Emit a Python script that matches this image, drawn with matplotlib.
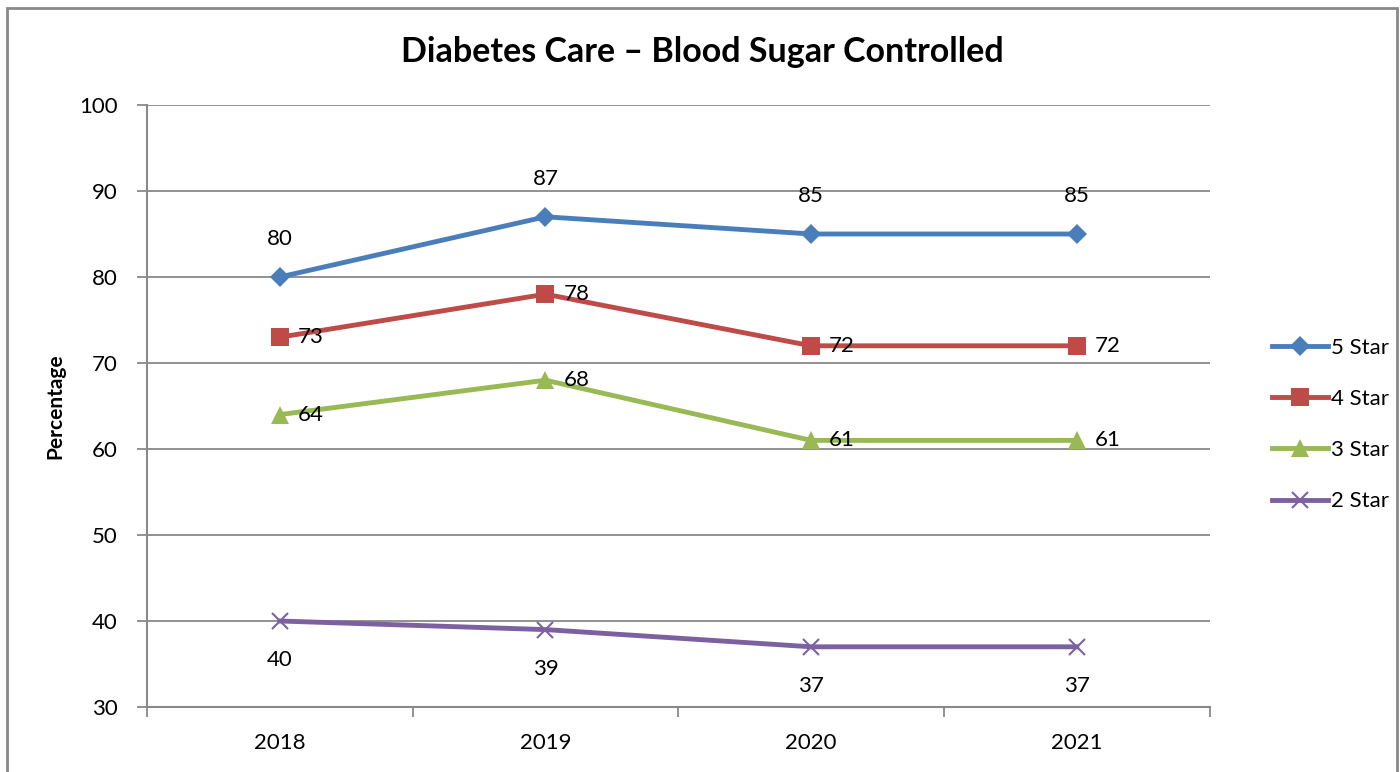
import matplotlib.pyplot as plt
from matplotlib.patches import Rectangle

years = ["2018", "2019", "2020", "2021"]
five_star = [80, 87, 85, 85]
four_star = [73, 78, 72, 72]
three_star = [64, 68, 61, 61]
two_star = [40, 39, 37, 37]

series_names = ["5 Star", "4 Star", "3 Star", "2 Star"]
y_ticks = [30, 40, 50, 60, 70, 80, 90, 100]

plt.rcParams["font.family"] = ["Lato", "DejaVu Sans"]

fig = plt.figure(figsize=(14, 7.72), dpi=100)
ax = fig.add_axes([0.105, 0.0842, 0.759, 0.7798])

# outer chart frame
fig.patches.append(Rectangle((0.005, -0.05), 0.993, 1.04, transform=fig.transFigure,
                             fill=False, edgecolor="#898989", linewidth=2))

styles = [
    ("#4A7EBB", "D", 10, "above"),
    ("#BE4B48", "s", 12.5, "right"),
    ("#98B954", "^", 12.5, "right"),
    ("#7D60A0", "x", 11, "below"),
]

x = list(range(len(years)))
for vals, name, (color, marker, ms, pos) in zip(
        [five_star, four_star, three_star, two_star], series_names, styles):
    ax.plot(x, vals, color=color, linewidth=3.5, marker=marker, markersize=ms,
            markeredgewidth=1.5 if marker == "x" else 0, markeredgecolor=color,
            label=name, zorder=3)
    for xi, v in zip(x, vals):
        if pos == "above":
            ax.annotate(str(v), (xi, v), xytext=(0, 20), textcoords="offset points",
                        ha="center", va="bottom", fontsize=16)
        elif pos == "below":
            ax.annotate(str(v), (xi, v), xytext=(0, -21), textcoords="offset points",
                        ha="center", va="top", fontsize=16)
        else:
            ax.annotate(str(v), (xi, v), xytext=(13, 0), textcoords="offset points",
                        ha="left", va="center", fontsize=16)

ax.set_xlim(-0.5, 3.5)
ax.set_ylim(30, 100)
ax.set_yticks(y_ticks)
ax.set_xticks(x)
ax.set_xticklabels(years)
ax.set_xticks([-0.5, 0.5, 1.5, 2.5, 3.5], minor=True)
ax.tick_params(axis="x", which="major", length=0, labelsize=16, pad=19)
ax.tick_params(axis="x", which="minor", length=7, width=1.3, color="#898989", direction="out")
ax.tick_params(axis="y", length=7, width=1.3, color="#898989", labelsize=16, pad=14)

ax.grid(axis="y", color="#898989", linewidth=1.3)
ax.set_axisbelow(True)
for side in ["top", "right"]:
    ax.spines[side].set_visible(False)
for side in ["left", "bottom"]:
    ax.spines[side].set_color("#898989")
    ax.spines[side].set_linewidth(1.5)

ax.set_ylabel("Percentage", fontsize=15, fontweight="bold", labelpad=10)
fig.text(0.502, 0.933, "Diabetes Care \u2013 Blood Sugar Controlled", ha="center",
         va="center", fontsize=24.5, fontweight="bold")

ax.legend(loc="center left", bbox_to_anchor=(1.04, 0.469), frameon=False, fontsize=16,
          handlelength=2.5, handletextpad=0.15, labelspacing=1.4)

fig.savefig("out.png", dpi=100)
